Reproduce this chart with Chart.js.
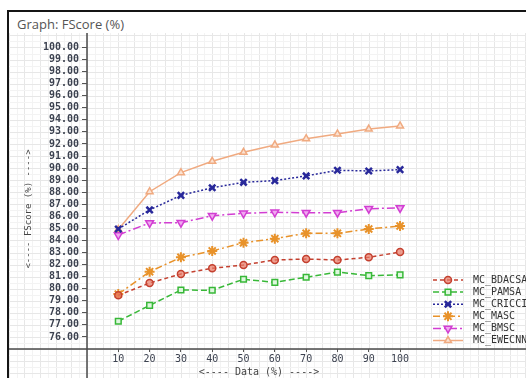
<!DOCTYPE html>
<html>
<head>
<meta charset="utf-8">
<script src="https://cdn.jsdelivr.net/npm/chart.js@4/dist/chart.umd.min.js"></script>
<style>
    body { margin:0; background:#fff; width:526px; height:378px; overflow:hidden; position:relative; }
    .frame { position:absolute; left:7px; top:10px; width:600px; height:400px; border-top:2px solid #151515; border-left:2px solid #151515; }
    .graph-title { position:absolute; left:17px; top:15px; font-family:"Open Sans", sans-serif; font-size:13px; color:#555; }
    #fscore { position:absolute; left:0; top:0; }
</style>
</head>
<body>
<div class="frame"></div>
<div class="graph-title">Graph: FScore (%)</div>
<canvas id="fscore" width="526" height="378"></canvas>
<script>
var dataPercent = [10,20,30,40,50,60,70,80,90,100];
var yTickValues = [76,77,78,79,80,81,82,83,84,85,86,87,88,89,90,91,92,93,94,95,96,97,98,99,100];
var seriesNames = ["MC_BDACSA","MC_PAMSA","MC_CRICCI","MC_MASC","MC_BMSC","MC_EWECNN"];

var bdacsa = [79.45, 80.47, 81.22, 81.69, 81.97, 82.38, 82.46, 82.38, 82.60, 83.04];
var pamsa  = [77.30, 78.62, 79.89, 79.87, 80.78, 80.53, 80.95, 81.38, 81.08, 81.14];
var cricci = [84.95, 86.53, 87.74, 88.37, 88.82, 88.96, 89.35, 89.82, 89.76, 89.87];
var masc   = [79.55, 81.41, 82.60, 83.13, 83.81, 84.15, 84.59, 84.59, 84.95, 85.20];
var bmsc   = [84.45, 85.45, 85.47, 86.05, 86.25, 86.33, 86.30, 86.30, 86.63, 86.70];
var ewecnn = [84.90, 88.04, 89.62, 90.56, 91.31, 91.92, 92.44, 92.83, 93.24, 93.49];

function toPoints(values){
    return values.map(function(v,i){ return {x:dataPercent[i], y:v}; });
}

function series(label,values,color,fill,dash,pointStyle,radius,extra){
    var ds = {
        label:label,
        data:toPoints(values),
        borderColor:color,
        backgroundColor:fill,
        borderWidth:1.5,
        borderDash:dash,
        pointStyle:pointStyle,
        pointRadius:radius,
        pointBorderColor:color,
        pointBackgroundColor:fill,
        pointBorderWidth:1.5,
        tension:0
    };
    for(var k in extra){ ds[k] = extra[k]; }
    return ds;
}

var datasets = [
    series(seriesNames[0],bdacsa,"#c4402f","rgba(232,120,100,0.7)",[4,3],"circle",3.5,{}),
    series(seriesNames[1],pamsa,"#38b838","#dff7df",[6,3],"rect",4,{}),
    series(seriesNames[2],cricci,"#28289a","#28289a",[2,2],"crossRot",4.5,{pointBorderWidth:2.5}),
    series(seriesNames[3],masc,"#e8922a","#f0a040",[7,3,2,3],"star",5,{pointBorderWidth:2}),
    series(seriesNames[4],bmsc,"#d23ed2","#f0a8f0",[8,3,2,3],"triangle",4.5,{pointRotation:180}),
    series(seriesNames[5],ewecnn,"#f0aa80","#fbe2d2",[],"triangle",4,{})
];

var gridPlugin = {
    id:"gridPlugin",
    beforeDraw:function(chart){
        var ctx = chart.ctx;
        var xs = chart.scales.x, ys = chart.scales.y;
        var left = 9, right = 526, top = 33, bottom = 378;
        ctx.save();
        ctx.lineWidth = 1;
        for(var v=-30; v<=140; v+=2.5){
            var px = Math.round(xs.getPixelForValue(v)) + 0.5;
            if(px < left || px > right) continue;
            ctx.strokeStyle = (v % 5 === 0) ? "#e7e7e7" : "#f3f3f3";
            ctx.beginPath(); ctx.moveTo(px,top); ctx.lineTo(px,bottom); ctx.stroke();
        }
        for(var w=72; w<=101.5; w+=0.5){
            var py = Math.round(ys.getPixelForValue(w)) + 0.5;
            if(py < top || py > bottom) continue;
            ctx.strokeStyle = (w % 1 === 0) ? "#e7e7e7" : "#f3f3f3";
            ctx.beginPath(); ctx.moveTo(left,py); ctx.lineTo(right,py); ctx.stroke();
        }
        // axis lines run across the whole frame
        ctx.strokeStyle = "#4a4a4a";
        ctx.lineWidth = 1.5;
        var ax = xs.getPixelForValue(0), ay = ys.getPixelForValue(75);
        ctx.beginPath(); ctx.moveTo(ax,top); ctx.lineTo(ax,bottom); ctx.stroke();
        ctx.beginPath(); ctx.moveTo(left,ay); ctx.lineTo(right,ay); ctx.stroke();
        ctx.restore();
    },
    afterDraw:function(chart){
        var ctx = chart.ctx;
        ctx.save();
        ctx.fillStyle = "#444";
        ctx.textAlign = "center";
        ctx.textBaseline = "middle";
        ctx.font = "10px 'DejaVu Sans Mono'";
        ctx.fillText("<---- Data (%) ---->", 259, 372);
        ctx.translate(29,209);
        ctx.rotate(-Math.PI/2);
        ctx.font = "9px 'DejaVu Sans Mono'";
        ctx.fillText("<---- FScore (%) ---->", 0, 0);
        ctx.restore();

        // legend in the lower right corner
        ctx.save();
        chart.data.datasets.forEach(function(ds,i){
            var y = 280 + i*12.1;
            ctx.strokeStyle = ds.borderColor;
            ctx.lineWidth = 1.5;
            ctx.setLineDash(ds.borderDash);
            ctx.beginPath(); ctx.moveTo(433,y); ctx.lineTo(463,y); ctx.stroke();
            ctx.setLineDash([]);
            ctx.fillStyle = ds.pointBackgroundColor;
            ctx.lineWidth = ds.pointBorderWidth;
            Chart.helpers.drawPoint(ctx,{pointStyle:ds.pointStyle,radius:ds.pointRadius,rotation:ds.pointRotation||0,borderWidth:ds.pointBorderWidth},448,y);
            ctx.fillStyle = "#333";
            ctx.font = "10px 'DejaVu Sans Mono'";
            ctx.textAlign = "left";
            ctx.textBaseline = "middle";
            ctx.fillText(ds.label,473,y);
        });
        ctx.restore();
    }
};

new Chart(document.querySelector("#fscore"),{
    type:"line",
    data:{ datasets:datasets },
    options:{
        responsive:false,
        animation:false,
        devicePixelRatio:1,
        layout:{ padding:{top:33,right:0,bottom:0,left:0} },
        plugins:{ legend:{display:false}, tooltip:{enabled:false} },
        scales:{
            x:{
                type:"linear",
                min:0, max:138,
                afterBuildTicks:function(scale){
                    scale.ticks = dataPercent.map(function(v){ return {value:v}; });
                },
                afterFit:function(scale){ scale.height = 29; },
                grid:{ color:"rgba(0,0,0,0)", tickColor:"#555", tickLength:3 },
                border:{ display:false },
                ticks:{ padding:1, maxRotation:0, autoSkip:false, color:"#3c4250", font:{family:"DejaVu Sans Mono", size:10} }
            },
            y:{
                min:75, max:101.2,
                afterBuildTicks:function(scale){
                    scale.ticks = yTickValues.map(function(v){ return {value:v}; });
                },
                afterFit:function(scale){ scale.width = 87; },
                grid:{ color:"rgba(0,0,0,0)", tickColor:"#555", tickLength:5 },
                border:{ display:false },
                ticks:{
                    padding:3,
                    autoSkip:false,
                    color:"#3c4250",
                    font:{family:"DejaVu Sans Mono", size:10, weight:"bold"},
                    callback:function(v){ return v.toFixed(2); }
                }
            }
        }
    },
    plugins:[gridPlugin]
});
</script>
</body>
</html>
